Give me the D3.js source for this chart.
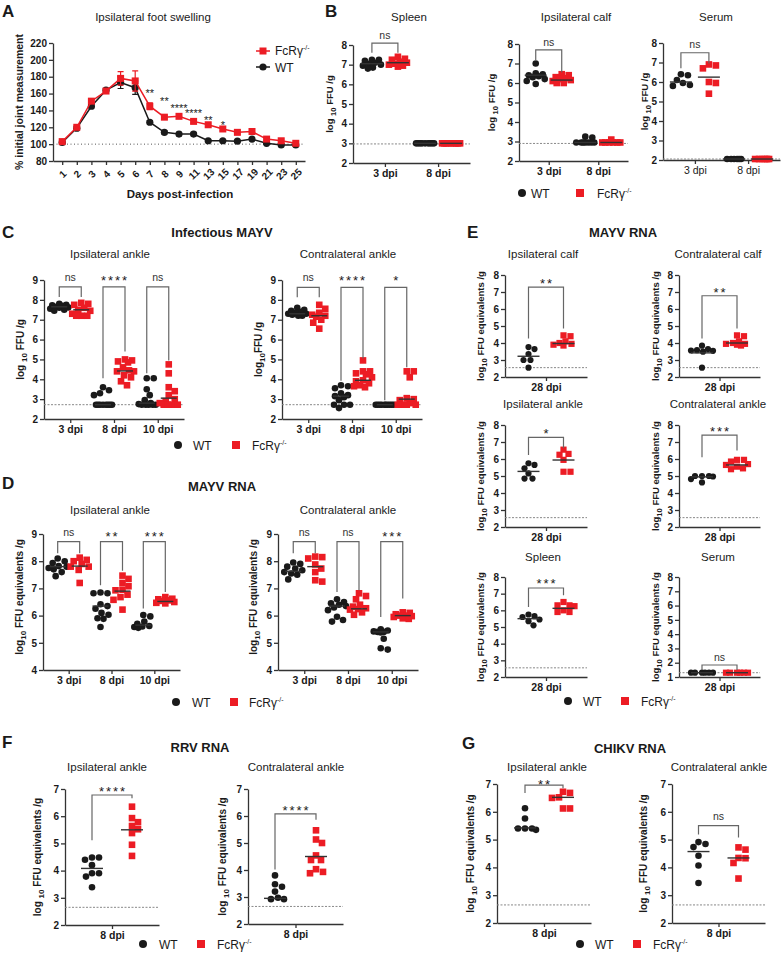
<!DOCTYPE html>
<html>
<head>
<meta charset="utf-8">
<script src="https://cdn.jsdelivr.net/npm/d3@7"></script>
<style>
body { margin: 0; background: #fff; }
svg { font-family: "Liberation Sans", Arial, sans-serif; }
</style>
</head>
<body>
<script>
// ---- A: foot swelling ----
const aDays = ["1","2","3","4","5","6","7","8","9","11","13","15","17","19","21","23","25"];
const aWT = [102,119,145,164,173,167,126,114,112,112,104,104,103.5,106,101,99,99];
const aFc = [103,120,151,163,178,175,145,132,133,127,123,118,114,115,106,104,101];
const aWTerr = [1,2,2,2,7,8,2,2,2,2,1,1,1,1,1,1,1];
const aFcErr = [1,2,2,2,8,12,4,2,2,2,2,2,2,2,2,2,2];
const aStars = ["","","","","","","**","**","****","****","**","*","","","","",""];
const aStarAt = [0,0,0,0,0,0,164,154,146,140,132,126,0,0,0,0,0];

// ---- B: infectious virus, spleen / calf / serum ----
const bCats = ["3 dpi", "8 dpi"];
const bSpleenWT = [[7.25,7.25,7.2,7.1,7.05,7.0,6.95,6.85,6.8],[3,3,3,3,3,3,3,3,3]];
const bSpleenFc = [[7.4,7.3,7.25,7.15,7.1,7.05,7.0,6.95,6.9],[3,3,3,3,3,3,3,3,3]];
const bSpleenLines = [[7.05,3.0],[7.1,3.0]];
const bCalfWT = [[7.0,6.5,6.45,6.4,6.35,6.3,6.2,6.1,5.95],[3.25,3.2,2.95,2.95,2.95,2.95,2.95,2.95,2.95]];
const bCalfFc = [[6.45,6.4,6.3,6.25,6.2,6.15,6.1,6.0,6.0],[3.1,2.95,2.95,2.95,2.95,2.95,2.95]];
const bCalfLines = [[6.4,2.95],[6.15,2.95]];
const bSerumWT = [[6.4,6.35,6.1,5.95,5.85,5.8],[2.05,2.05,2.05,2.05,2.05,2.05]];
const bSerumFc = [[6.9,6.85,6.7,6.0,5.95,5.4],[2.05,2.05,2.05,2.05,2.05,2.05]];
const bSerumLines = [[6.0,2.05],[6.25,2.05]];

// ---- C: infectious MAYV ----
const cCats = ["3 dpi", "8 dpi", "10 dpi"];
const cIpsiWT = [[7.8,7.75,7.72,7.7,7.65,7.62,7.6,7.55,7.5,7.45],
  [3.6,3.45,3.3,3.2,2.72,2.72,2.72,2.72,2.72,2.72,2.72,2.72],
  [4.05,4.05,3.5,3.2,2.95,2.8,2.75,2.72,2.72,2.72,2.72,2.72]];
const cIpsiFc = [[7.85,7.8,7.75,7.6,7.5,7.45,7.3,7.2,7.2,7.2],
  [5.0,4.95,4.9,4.85,4.6,4.45,4.4,4.4,4.2,4.1,3.9,3.7],
  [4.75,4.3,3.6,3.4,3.2,3.0,2.9,2.8,2.72,2.72,2.72,2.72]];
const cIpsiLines = [[7.65,2.72,2.8],[7.5,4.42,3.05]];
const cContraWT = [[7.6,7.5,7.45,7.4,7.35,7.3,7.3,7.25,7.2,7.2],
  [3.7,3.65,3.55,3.3,3.2,3.15,3.1,2.95,2.72,2.72,2.72,2.55],
  [2.72,2.72,2.72,2.72,2.72,2.72,2.72,2.72,2.72,2.72]];
const cContraFc = [[7.75,7.55,7.35,7.25,7.2,7.15,7.0,6.85,6.55],
  [4.95,4.4,4.4,4.3,4.25,4.1,3.95,3.9,3.8,3.7,3.65,3.6],
  [4.4,4.4,4.1,3.05,3.0,2.95,2.8,2.72,2.72,2.72,2.72]];
const cContraLines = [[7.3,3.15,2.72],[7.2,3.95,3.0]];

// ---- D: MAYV RNA ----
const dIpsiWT = [[8.1,8.0,7.93,7.82,7.8,7.75,7.7,7.6,7.45],
  [6.85,6.82,6.82,6.42,6.35,6.25,6.1,6.03,5.9,5.88,5.58],
  [6.02,5.97,5.78,5.7,5.62,5.6,5.58,5.55]];
const dIpsiFc = [[8.13,8.05,8.0,7.9,7.8,7.8,7.68,7.2],
  [7.47,7.35,7.2,7.08,6.95,6.93,6.77,6.68,6.58,6.22],
  [6.68,6.62,6.6,6.56,6.54,6.5,6.47,6.45]];
const dIpsiLines = [[7.8,6.35,5.65],[7.82,6.9,6.52]];
const dContraWT = [[7.95,7.9,7.8,7.73,7.67,7.6,7.55,7.5,7.33],
  [6.6,6.5,6.45,6.4,6.35,6.3,6.2,5.96,5.84,5.78],
  [5.5,5.45,5.42,5.4,5.4,5.38,5.15,4.8,4.75]];
const dContraFc = [[8.17,8.15,8.1,7.88,7.73,7.6,7.3,7.25],
  [6.82,6.72,6.6,6.4,6.33,6.27,6.24,6.22,6.12,6.03],
  [6.12,6.1,6.05,6.0,6.0,5.98,5.95,5.9,5.88]];
const dContraLines = [[7.63,6.35,5.4],[7.8,6.25,6.0]];

// ---- E: MAYV RNA at 28 dpi ----
const eCats = ["28 dpi"];
const eIpsiCalfWT = [[3.76,3.64,3.35,3.0,3.0,2.55]];
const eIpsiCalfFc = [[4.45,4.4,4.1,4.0,3.95,3.9,3.85]];
const eContraCalfWT = [[3.84,3.64,3.58,3.56,3.54,3.49,2.55]];
const eContraCalfFc = [[4.45,4.4,4.1,4.0,3.95,3.95,3.9,3.85]];
const eIpsiAnkleWT = [[5.75,5.65,5.45,5.15,4.85,4.85]];
const eIpsiAnkleFc = [[6.55,6.3,6.25,5.95,5.25,5.25]];
const eContraAnkleWT = [[5.0,5.0,5.0,4.97,4.82,4.62]];
const eContraAnkleFc = [[5.95,5.95,5.85,5.7,5.65,5.55,5.45,5.4]];
const eSpleenWT = [[5.75,5.65,5.6,5.45,5.35,5.1]];
const eSpleenFc = [[6.5,6.3,6.3,6.25,6.0,5.9,5.9]];
const eSerumWT = [[1.3,1.3,1.3,1.3,1.3,1.3]];
const eSerumFc = [[1.3,1.3,1.3,1.3,1.3,1.3]];
const eLines = {ipsiCalf: [[3.22],[3.97]], contraCalf: [[3.42],[4.0]], ipsiAnkle: [[5.27],[5.94]],
  contraAnkle: [[4.95],[5.65]], spleen: [[5.5],[6.12]], serum: [[1.3],[1.3]]};

// ---- F: RRV RNA ----
const fCats = ["8 dpi"];
const fIpsiWT = [[4.48,4.48,4.4,4.2,3.9,3.9,3.78,3.39]];
const fIpsiFc = [[6.35,5.93,5.78,5.64,5.52,5.38,4.95,4.54]];
const fContraWT = [[3.8,3.47,3.38,3.2,2.97,2.92,2.92]];
const fContraFc = [[5.47,5.13,5.0,4.54,4.37,4.37,4.03,3.93,3.88]];

// ---- G: CHIKV RNA ----
const gIpsiWT = [[6.13,5.76,5.4,5.4,5.4,5.35]];
const gIpsiFc = [[6.72,6.68,6.52,6.5,6.12,6.12]];
const gContraWT = [[4.91,4.84,4.73,4.42,4.07,3.44]];
const gContraFc = [[4.72,4.64,4.34,4.33,4.16,3.6]];

// significance brackets: [category, top, left leg end, right leg end, label, label height]
const brB = {spleen: [[0,8.1,7.6,7.6,"ns",8.5]], calf: [[0,7.7,7.15,6.55,"ns",8.1]], serum: [[0,7.5,6.7,6.95,"ns",7.95]]};
const brC = {ipsi: [[0,8.65,8.15,8.15,"ns",9.15],[1,8.65,4.05,5.4,"****",9.15],[2,8.65,4.3,4.95,"ns",9.15]],
  contra: [[0,8.63,8.13,8.13,"ns",9.15],[1,8.63,3.92,5.05,"****",9.15],[2,8.63,2.95,4.6,"*",9.15]]};
const brD = {ipsi: [[0,8.72,8.29,8.29,"ns",9.05],[1,8.72,7.12,7.65,"**",9.05],[2,8.72,6.26,6.87,"***",9.05]],
  contra: [[0,8.72,8.29,8.29,"ns",9.05],[1,8.72,6.87,6.93,"ns",9.05],[2,8.72,5.95,6.63,"***",9.05]]};
const brE = {ipsiCalf: [[0,7.29,4.27,4.86,"**",7.7]], contraCalf: [[0,6.78,4.27,4.86,"**",7.2]],
  ipsiAnkle: [[0,7.27,6.24,6.65,"*",7.72]], contraAnkle: [[0,7.4,6.1,6.5,"***",7.8]],
  spleen: [[0,7.34,6.2,6.9,"***",7.8]], serum: [[0,1.84,1.49,1.49,"ns",2.4]]};
const brF = {ipsi: [[0,6.78,5.12,6.66,"****",7.05]], contra: [[0,6.08,4.02,5.86,"****",6.35]]};
const brG = {ipsi: [[0,6.96,6.68,6.85,"**",7.12]], contra: [[0,5.5,5.18,5.08,"ns",5.82]]};

const RED = "#ec1c24", INK = "#1a1a1a", AXC = "#333";
const LOG_G = [["log ",0],["10",1],[" FFU /g",0]];
const LOG_G2 = [["log",0],["10",1],["FFU /g",0]];
const LOG_EQ = [["log",0],["10",1],[" FFU equivalents /g",0]];
const LOG_EQ_SP = [["log ",0],["10",1],[" FFU equivalents /g",0]];

const svg = d3.select("body").append("svg")
    .attr("width", 784)
    .attr("height", 953);

function text(x, y, s, size, weight, anchor) {
  return svg.append("text")
      .attr("x", x).attr("y", y)
      .attr("font-size", size)
      .attr("font-weight", weight || "normal")
      .attr("text-anchor", anchor || "middle")
      .attr("fill", INK)
      .text(s);
}

function ylab(x, cy, parts, size) {
  const t = svg.append("text")
      .attr("transform", "translate(" + x + "," + cy + ") rotate(-90)")
      .attr("text-anchor", "middle")
      .attr("font-size", size)
      .attr("font-weight", "bold")
      .attr("fill", INK);
  let sub = false;
  parts.forEach(function(p) {
    const sp = t.append("tspan").text(p[0]);
    if (p[1] && !sub) sp.attr("font-size", size * 0.8).attr("dy", 3);
    if (!p[1] && sub) sp.attr("dy", -3);
    sub = !!p[1];
  });
}

function fcLabel(t, supSize) {
  t.append("tspan").text("FcRγ");
  t.append("tspan").attr("font-size", supSize).attr("dy", -5).text("-/-");
}

function legend(y, wx, wtx, fx, ftx) {
  svg.append("circle").attr("cx", wx).attr("cy", y).attr("r", 4).attr("fill", INK);
  text(wtx, y + 4.5, "WT", 12, "normal", "start");
  svg.append("rect").attr("x", fx - 4).attr("y", y - 4).attr("width", 8).attr("height", 8).attr("fill", RED);
  fcLabel(text(ftx, y + 4.5, "", 12, "normal", "start"), 7);
}

function styleAxis(sel, bold, size) {
  sel.attr("font-family", null).attr("font-size", size || 10);
  sel.select(".domain").attr("stroke", AXC).attr("stroke-width", 1.3);
  sel.selectAll(".tick line").attr("stroke", AXC).attr("stroke-width", 1.3);
  sel.selectAll(".tick text")
      .attr("font-weight", bold ? "bold" : "normal")
      .attr("fill", INK);
}

// spread overlapping points sideways, like a scatter dot plot
function spread(vals, y, cx, size, w) {
  const placed = [];
  return vals.slice().sort(function(a, b) { return b - a; }).map(function(v) {
    const py = y(v);
    let best = 0, bestD = -1;
    for (let k = 0; k <= 2 * w; k++) {
      const dx = (k % 2 ? 1 : -1) * Math.ceil(k / 2);
      let md = Infinity;
      placed.forEach(function(p) {
        md = Math.min(md, Math.hypot(p[0] - (cx + dx), p[1] - py));
      });
      if (md >= size) { best = dx; bestD = Infinity; break; }
      if (md > bestD) { bestD = md; best = dx; }
    }
    placed.push([cx + best, py]);
    return [cx + best, py];
  });
}

function dotPlot(o) {
  const y = d3.scaleLinear().domain(o.dom).range([o.bot, o.top]);
  const x = d3.scalePoint().domain(o.cats).range([o.ax, o.ex]).padding(0.6);
  const ticks = d3.range(o.dom[0], o.dom[1] + 1);

  const yAx = svg.append("g")
      .attr("transform", "translate(" + o.ax + ",0)")
      .call(d3.axisLeft(y).tickValues(ticks).tickFormat(d3.format("d"))
        .tickSize(4).tickSizeOuter(0).tickPadding(2));
  styleAxis(yAx, true, 10);
  const xAx = svg.append("g")
      .attr("transform", "translate(0," + o.bot + ")")
      .call(d3.axisBottom(x).tickSize(4).tickSizeOuter(0).tickPadding(3));
  styleAxis(xAx, o.boldX !== false, 10.5);

  if (o.lod) {
    svg.append("line")
        .attr("x1", o.ax).attr("x2", o.ex)
        .attr("y1", y(o.lod)).attr("y2", y(o.lod))
        .attr("stroke", "#888").attr("stroke-width", 1)
        .attr("stroke-dasharray", "2,1.5");
  }

  text(o.title[1], o.title[2], o.title[0], 11.5);
  ylab(o.ylx, (o.top + o.bot) / 2 + (o.yshift || 0), o.ylab, o.ylSize || 10);

  const half = o.size / 2;
  o.cats.forEach(function(c, i) {
    const wx = x(c) - o.off, fx = x(c) + o.off;
    svg.append("g").selectAll("circle")
        .data(spread(o.wt[i], y, wx, o.size, o.w))
        .join("circle")
        .attr("cx", d => d[0]).attr("cy", d => d[1])
        .attr("r", half).attr("fill", INK);
    svg.append("g").selectAll("rect")
        .data(spread(o.fc[i], y, fx, o.size, o.w))
        .join("rect")
        .attr("x", d => d[0] - half).attr("y", d => d[1] - half)
        .attr("width", o.size).attr("height", o.size).attr("fill", RED);
    [[wx, o.lines[0][i]], [fx, o.lines[1][i]]].forEach(function(l) {
      svg.append("line")
          .attr("x1", l[0] - o.hw).attr("x2", l[0] + o.hw)
          .attr("y1", y(l[1])).attr("y2", y(l[1]))
          .attr("stroke", "#333").attr("stroke-width", 1.4);
    });
  });

  (o.br || []).forEach(function(b) {
    const x1 = x(o.cats[b[0]]) - o.off, x2 = x(o.cats[b[0]]) + o.off;
    svg.append("path")
        .attr("d", "M" + x1 + "," + y(b[2]) + "V" + y(b[1]) + "H" + x2 + "V" + y(b[3]))
        .attr("fill", "none").attr("stroke", "#666").attr("stroke-width", 1.2);
    const star = b[4].indexOf("*") >= 0;
    text((x1 + x2) / 2 + (star ? 1 : 0), y(b[5]), b[4], star ? 13 : 10.5)
        .attr("dy", star ? "0.62em" : "0.35em")
        .attr("letter-spacing", star ? 2 : 0)
        .attr("fill", star ? INK : "#333");
  });
}

// ================= Panel A =================
(function() {
  const y = d3.scaleLinear().domain([80, 220]).range([161, 43]);
  const x = d3.scalePoint().domain(aDays).range([53, 305]).padding(0.63);

  const yAx = svg.append("g").attr("transform", "translate(53,0)")
      .call(d3.axisLeft(y).tickValues(d3.range(80, 221, 20)).tickSize(4).tickSizeOuter(0).tickPadding(2));
  styleAxis(yAx, true, 10);
  const xAx = svg.append("g").attr("transform", "translate(0,161)")
      .call(d3.axisBottom(x).tickSize(4).tickSizeOuter(0));
  styleAxis(xAx, true, 10);
  xAx.selectAll(".tick text")
      .attr("y", 0).attr("dy", "0.35em")
      .attr("transform", "translate(0,13) rotate(-45)")
      .attr("text-anchor", "middle");

  svg.append("line").attr("x1", 53).attr("x2", 305).attr("y1", y(100)).attr("y2", y(100))
      .attr("stroke", "#555").attr("stroke-dasharray", "1,2.5").attr("stroke-width", 1);

  text(2, 17, "A", 17, "bold", "start");
  text(153, 21, "Ipsilateral foot swelling", 11.5);
  text(180, 198, "Days post-infection", 11.5, "bold");
  ylab(23, 102, [["% initial joint measurement", 0]], 10.5);

  const line = d3.line().x((d, i) => x(aDays[i])).y(d => y(d));
  [[aWT, aWTerr, INK], [aFc, aFcErr, RED]].forEach(function(s) {
    const g = svg.append("g");
    g.selectAll(".err").data(s[0]).join("path")
        .attr("d", (d, i) => {
          const cx = x(aDays[i]), y0 = y(d - s[1][i]), y1 = y(d + s[1][i]);
          return "M" + (cx - 3) + "," + y0 + "H" + (cx + 3) + "M" + cx + "," + y0 + "V" + y1 + "M" + (cx - 3) + "," + y1 + "H" + (cx + 3);
        })
        .attr("stroke", s[2]).attr("stroke-width", 1.2).attr("fill", "none");
    g.append("path").datum(s[0]).attr("d", line)
        .attr("fill", "none").attr("stroke", s[2]).attr("stroke-width", 1.5);
    if (s[2] === INK) {
      g.selectAll("circle").data(s[0]).join("circle")
          .attr("cx", (d, i) => x(aDays[i])).attr("cy", d => y(d)).attr("r", 3.6).attr("fill", INK);
    } else {
      g.selectAll("rect").data(s[0]).join("rect")
          .attr("x", (d, i) => x(aDays[i]) - 3.5).attr("y", d => y(d) - 3.5)
          .attr("width", 7).attr("height", 7).attr("fill", RED);
    }
  });

  aStars.forEach(function(s, i) {
    if (s) text(x(aDays[i]), y(aStarAt[i]), s, 11, "normal").attr("dy", "0.6em");
  });

  // legend
  svg.append("line").attr("x1", 256).attr("x2", 270).attr("y1", 51).attr("y2", 51).attr("stroke", RED).attr("stroke-width", 1.5);
  svg.append("rect").attr("x", 259.5).attr("y", 47.5).attr("width", 7).attr("height", 7).attr("fill", RED);
  fcLabel(text(275, 55, "", 12, "normal", "start"), 7);
  svg.append("line").attr("x1", 256).attr("x2", 270).attr("y1", 67).attr("y2", 67).attr("stroke", INK).attr("stroke-width", 1.5);
  svg.append("circle").attr("cx", 263).attr("cy", 67).attr("r", 3.6).attr("fill", INK);
  text(275, 71.5, "WT", 12, "normal", "start");
})();

// ================= Panel B =================
text(325, 17, "B", 17, "bold", "start");
dotPlot({ax: 353, ex: 470, top: 45, bot: 163, dom: [2, 8], cats: bCats, off: 13, w: 9, size: 6.6, hw: 11,
  lod: 2.97, title: ["Spleen", 409, 21], ylx: 333, ylab: LOG_G, ylSize: 9.5,
  wt: bSpleenWT, fc: bSpleenFc, lines: bSpleenLines, br: brB.spleen});
dotPlot({ax: 519, ex: 628, top: 44, bot: 161, dom: [2, 8], cats: bCats, off: 13, w: 9, size: 6.6, hw: 11,
  lod: 2.9, title: ["Ipsilateral calf", 576, 21], ylx: 495, ylab: LOG_G, ylSize: 9.5,
  wt: bCalfWT, fc: bCalfFc, lines: bCalfLines, br: brB.calf});
dotPlot({ax: 663, ex: 780, top: 43, bot: 160, dom: [2, 8], cats: bCats, off: 14, w: 9, size: 6.6, hw: 11,
  lod: 2.05, title: ["Serum", 716, 21], ylx: 648, ylab: LOG_G, ylSize: 9.5, boldX: false,
  wt: bSerumWT, fc: bSerumFc, lines: bSerumLines, br: brB.serum});
legend(193, 522, 531, 580, 597);

// ================= Panel C =================
text(2, 238, "C", 17, "bold", "start");
text(222, 237, "Infectious MAYV", 13, "bold");
dotPlot({ax: 44, ex: 184, top: 280, bot: 419, dom: [2, 9], cats: cCats, off: 11, w: 9, size: 6.6, hw: 8,
  lod: 2.72, title: ["Ipsilateral ankle", 110, 258], ylx: 24, ylab: LOG_G,
  wt: cIpsiWT, fc: cIpsiFc, lines: cIpsiLines, br: brC.ipsi});
dotPlot({ax: 282, ex: 422, top: 280, bot: 419, dom: [2, 9], cats: cCats, off: 11, w: 9, size: 6.6, hw: 8,
  lod: 2.72, title: ["Contralateral ankle", 348, 258], ylx: 262, ylab: LOG_G2,
  wt: cContraWT, fc: cContraFc, lines: cContraLines, br: brC.contra});
legend(445, 178, 193, 236, 252);

// ================= Panel D =================
text(2, 489, "D", 17, "bold", "start");
text(222, 491, "MAYV RNA", 13, "bold");
dotPlot({ax: 43, ex: 180, top: 534, bot: 670, dom: [4, 9], cats: cCats, off: 11, w: 9, size: 6.6, hw: 8,
  title: ["Ipsilateral ankle", 110, 514], ylx: 23, ylab: LOG_EQ, yshift: -5,
  wt: dIpsiWT, fc: dIpsiFc, lines: dIpsiLines, br: brD.ipsi});
dotPlot({ax: 278, ex: 418, top: 534, bot: 670, dom: [4, 9], cats: cCats, off: 11, w: 9, size: 6.6, hw: 8,
  title: ["Contralateral ankle", 348, 514], ylx: 257, ylab: LOG_EQ, yshift: -5,
  wt: dContraWT, fc: dContraFc, lines: dContraLines, br: brD.contra});
legend(702, 176, 192, 234, 249);

// ================= Panel E =================
text(467, 238, "E", 17, "bold", "start");
text(623, 237, "MAYV RNA", 13, "bold");
const eRows = [
  {top: 275, bot: 377, ty: 258, l: ["Ipsilateral calf", eIpsiCalfWT, eIpsiCalfFc, "ipsiCalf"],
   r: ["Contralateral calf", eContraCalfWT, eContraCalfFc, "contraCalf"]},
  {top: 425, bot: 527, ty: 408, l: ["Ipsilateral ankle", eIpsiAnkleWT, eIpsiAnkleFc, "ipsiAnkle"],
   r: ["Contralateral ankle", eContraAnkleWT, eContraAnkleFc, "contraAnkle"]},
  {top: 577, bot: 677, ty: 561, l: ["Spleen", eSpleenWT, eSpleenFc, "spleen"],
   r: ["Serum", eSerumWT, eSerumFc, "serum"]}
];
eRows.forEach(function(row) {
  [[row.l, 505, 587, 543, 484], [row.r, 679, 760, 718, 659]].forEach(function(c) {
    const serum = c[0][3] === "serum";
    dotPlot({ax: c[1], ex: c[2], top: row.top, bot: row.bot, dom: serum ? [1, 8] : [2, 8], cats: eCats,
      off: 17.5, w: 11, size: 6.2, hw: 11, lod: serum ? 1.3 : 2.55,
      title: [c[0][0], c[3], row.ty], ylx: c[4], ylab: LOG_EQ, ylSize: 9.5,
      wt: c[0][1], fc: c[0][2], lines: eLines[c[0][3]], br: brE[c[0][3]]});
  });
});
legend(701, 568, 583, 625, 641);

// ================= Panel F =================
text(2, 748, "F", 17, "bold", "start");
text(200, 752, "RRV RNA", 13, "bold");
dotPlot({ax: 65, ex: 159, top: 789, bot: 925, dom: [2, 7], cats: fCats, off: 20, w: 9, size: 6.6, hw: 11,
  lod: 2.65, title: ["Ipsilateral ankle", 107, 771], ylx: 41, ylab: LOG_EQ_SP,
  wt: fIpsiWT, fc: fIpsiFc, lines: [[4.08], [5.5]], br: brF.ipsi});
dotPlot({ax: 248, ex: 343, top: 789, bot: 924, dom: [2, 7], cats: fCats, off: 20.5, w: 9, size: 6.6, hw: 11,
  lod: 2.65, title: ["Contralateral ankle", 296, 771], ylx: 226, ylab: LOG_EQ_SP,
  wt: fContraWT, fc: fContraFc, lines: [[2.95], [4.5]], br: brF.contra});
legend(944, 143, 159, 201, 217);

// ================= Panel G =================
text(462, 749, "G", 17, "bold", "start");
text(630, 753, "CHIKV RNA", 13, "bold");
dotPlot({ax: 497, ex: 591, top: 784, bot: 923, dom: [2, 7], cats: fCats, off: 19, w: 11, size: 6.6, hw: 11,
  lod: 2.65, title: ["Ipsilateral ankle", 547, 771], ylx: 474, ylab: LOG_EQ_SP,
  wt: gIpsiWT, fc: gIpsiFc, lines: [[5.42], [6.52]], br: brG.ipsi});
dotPlot({ax: 672, ex: 765, top: 784, bot: 923, dom: [2, 7], cats: fCats, off: 20, w: 11, size: 6.6, hw: 11,
  lod: 2.65, title: ["Contralateral ankle", 719, 771], ylx: 647, ylab: LOG_EQ_SP,
  wt: gContraWT, fc: gContraFc, lines: [[4.57], [4.34]], br: brG.contra});
legend(944, 580, 595, 637, 653);
</script>
</body>
</html>
